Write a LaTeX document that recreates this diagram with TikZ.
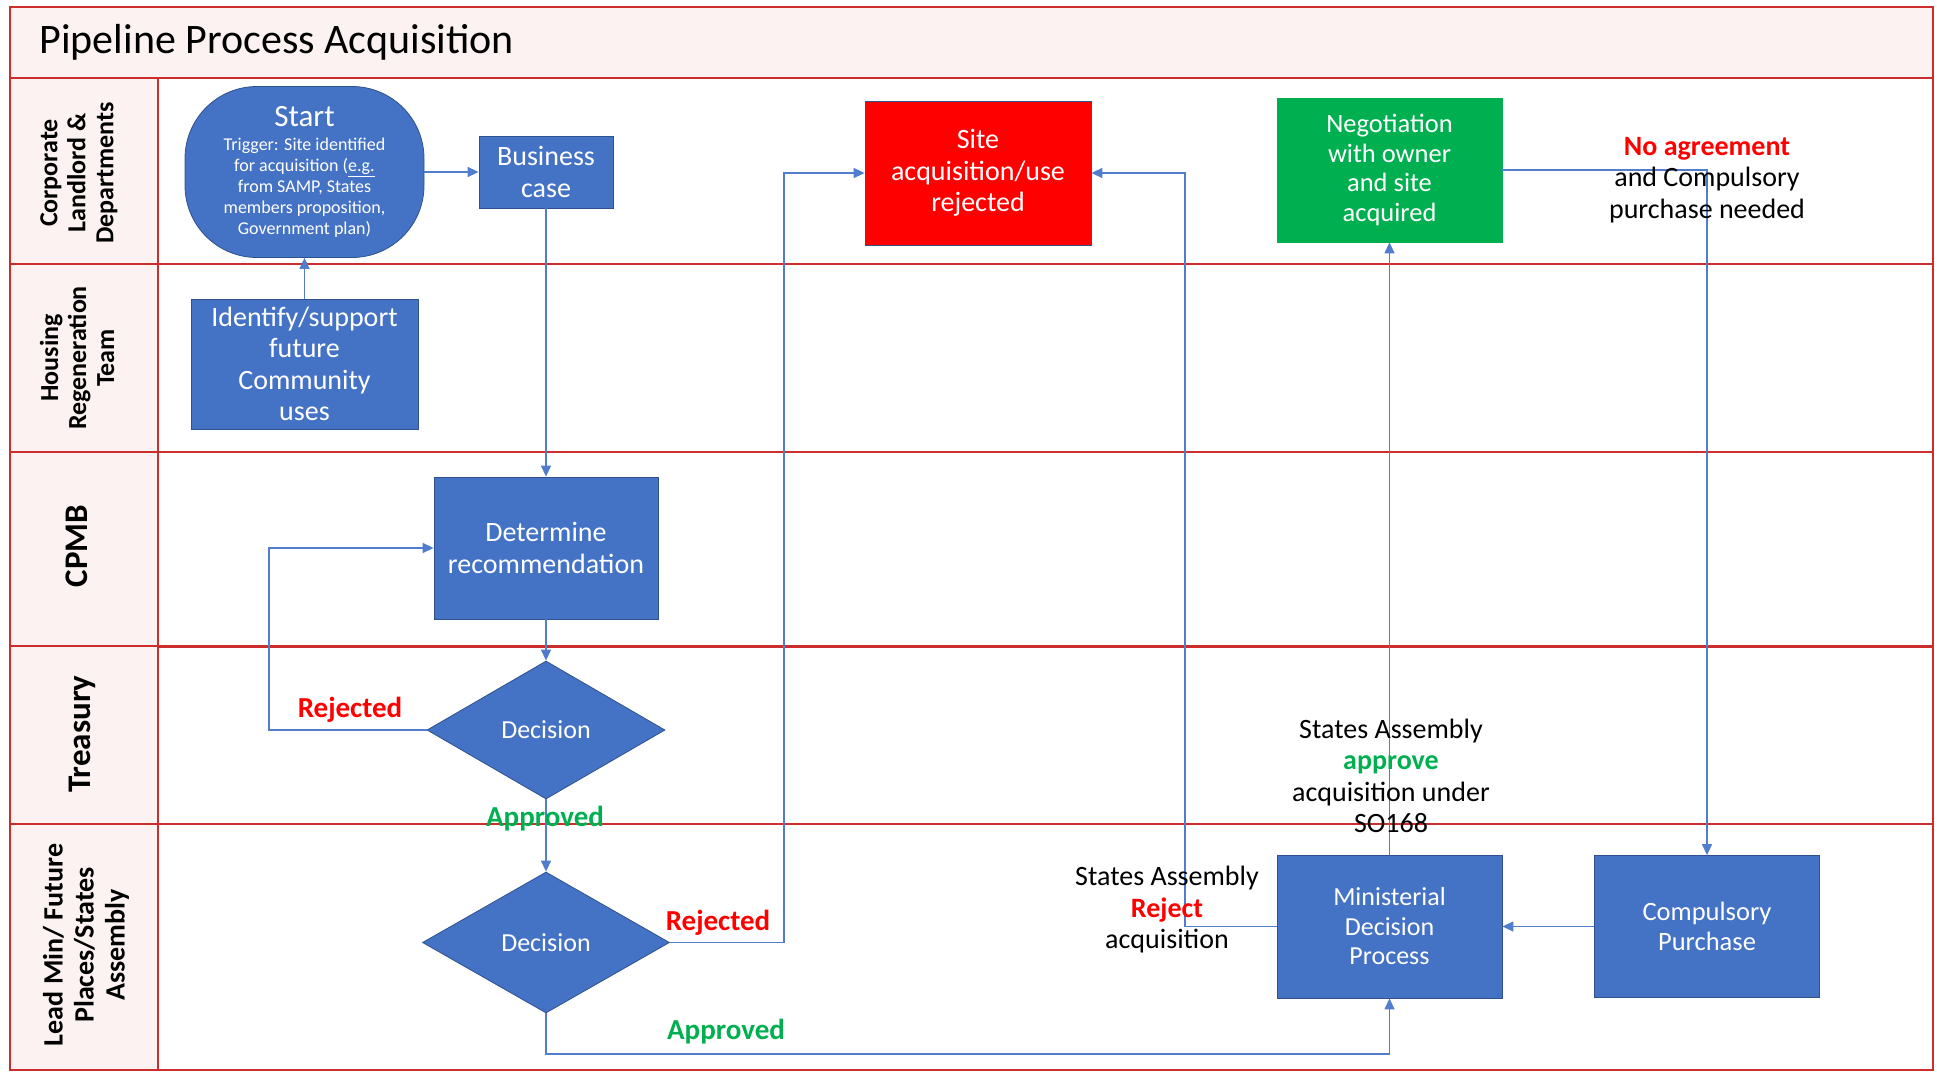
\documentclass[tikz,border=0pt]{standalone}
\usepackage{fontspec}
\setmainfont{Carlito}
\usetikzlibrary{arrows.meta,shapes.geometric}

\begin{document}
\begin{tikzpicture}[x=1pt,y=-1pt,
    lane/.style={draw=laneline,line width=1.6pt},
    lanehead/.style={lane,fill=lanefill},
    lanelabel/.style={rotate=90,align=center,font=\bfseries\fontsize{26}{28}\selectfont},
    box/.style={draw=boxedge,line width=0.8pt,fill=boxblue,text=white,align=center,inner sep=2pt,font=\fontsize{28}{31.5}\selectfont},
    decision/.style={box,diamond,aspect=1.72,inner sep=0pt,font=\fontsize{26}{30}\selectfont},
    flow/.style={draw=flowblue,line width=1.4pt,-{Triangle[length=11pt,width=10pt]}},
    note/.style={align=center,font=\fontsize{28}{31.5}\selectfont},
    rejtext/.style={text=rejred,font=\bfseries\fontsize{29}{32}\selectfont},
    apptext/.style={text=appgreen,font=\bfseries\fontsize{29}{32}\selectfont}]

  % Define colors
  \definecolor{laneline}{RGB}{204,45,45}
  \definecolor{lanefill}{RGB}{253,242,242}
  \definecolor{boxblue}{RGB}{68,114,196}
  \definecolor{boxedge}{RGB}{47,82,143}
  \definecolor{flowblue}{RGB}{80,125,205}
  \definecolor{rejred}{RGB}{255,0,0}
  \definecolor{appgreen}{RGB}{0,176,80}

  \useasboundingbox (0,0) rectangle (1937,1073);

  % Draw the title band
  \draw[lanehead] (10,7) rectangle (1933,78);
  \node[anchor=west,font=\fontsize{42}{48}\selectfont] (title) at (36,42) {Pipeline Process Acquisition};

  % Draw the lanes
  \draw[lane] (158,78) rectangle (1933,264);
  \draw[lanehead] (10,78) rectangle (158,264);
  \draw[lane] (158,264) rectangle (1933,452);
  \draw[lanehead] (10,264) rectangle (158,452);
  \draw[lane] (158,452) rectangle (1933,646);
  \draw[lanehead] (10,452) rectangle (158,646);
  \draw[lane] (158,646) rectangle (1933,824);
  \draw[lanehead] (10,646) rectangle (158,824);
  \draw[lane] (158,824) rectangle (1933,1070);
  \draw[lanehead] (10,824) rectangle (158,1070);
  \draw[lane,line width=3pt] (158,646) -- (1933,646);

  % Lane names
  \node[lanelabel] (corporate) at (79,173) {Corporate\\Landlord \&\\Departments};
  \node[lanelabel] (housing) at (77,358) {Housing\\Regeneration\\Team};
  \node[lanelabel,font=\bfseries\fontsize{33}{36}\selectfont] (cpmb) at (77,546) {CPMB};
  \node[lanelabel,font=\bfseries\fontsize{33}{36}\selectfont] (treasury) at (82,734) {Treasury};
  \node[lanelabel,font=\bfseries\fontsize{28}{31}\selectfont] (leadmin) at (86,945) {Lead Min/ Future\\Places/States\\Assembly};

  % Draw the process steps
  \node[box,rounded corners=72pt,minimum width=239,minimum height=171,font=\fontsize{18}{21}\selectfont] (start) at (304.5,172) {{\fontsize{31}{34}\selectfont Start}\\[3pt]Trigger: Site identified\\for acquisition (\underline{e.g.}\\from SAMP, States\\members proposition,\\Government plan)};
  \node[box,minimum width=134,minimum height=72] (bcase) at (546,172) {Business\\case};
  \node[box,minimum width=227,minimum height=130] (identify) at (304.5,364) {Identify/support\\future\\Community\\uses};
  \node[box,minimum width=224,minimum height=142] (determine) at (546,548) {Determine\\recommendation};
  \node[decision,minimum width=238,minimum height=138] (treasdec) at (546,730) {Decision};
  \node[decision,minimum width=247,minimum height=141] (mindec) at (546,942.5) {Decision};
  \node[box,fill=rejred,minimum width=226,minimum height=144] (siterej) at (978,173) {Site\\acquisition/use\\rejected};
  \node[box,fill=appgreen,draw=appgreen,font=\fontsize{26.5}{29.5}\selectfont,minimum width=225,minimum height=144] (negotiate) at (1389.5,170) {Negotiation\\with owner\\and site\\acquired};
  \node[box,font=\fontsize{26}{29.5}\selectfont,minimum width=225,minimum height=143] (ministerial) at (1389.5,926.5) {Ministerial\\Decision\\Process};
  \node[box,font=\fontsize{26.5}{29.5}\selectfont,minimum width=225,minimum height=142] (compulsory) at (1707,926.5) {Compulsory\\Purchase};

  % Draw the connectors
  \coordinate (loopleft) at (269,640);
  \coordinate (rejright) at (784,500);
  \coordinate (appbottom) at (900,1054);
  \coordinate (rejback) at (1185,500);
  \draw[flow] (identify.north) -- (start.south);
  \draw[flow] (start.east) -- (bcase.west);
  \draw[flow] (bcase.south) -- (determine.north);
  \draw[flow] (determine.south) -- (treasdec.north);
  \draw[flow] (treasdec.west) -| (loopleft) |- (determine.west);
  \draw[flow] (treasdec.south) -- (mindec.north);
  \draw[flow] (mindec.east) -| (rejright) |- (siterej.west);
  \draw[flow] (mindec.south) |- (appbottom) -| (ministerial.south);
  \draw[flow] (ministerial.west) -| (rejback) |- (siterej.east);
  \draw[flow] (ministerial.north) -- (negotiate.south);
  \draw[flow] (negotiate.east) -| (compulsory.north);
  \draw[flow] (compulsory.west) -- (ministerial.east);

  % Draw the decision labels
  \node[rejtext] (rejtreasury) at (350,710) {Rejected};
  \node[apptext] (apptreasury) at (545,819) {Approved};
  \node[rejtext] (rejminister) at (718,923) {Rejected};
  \node[apptext] (appminister) at (726,1032) {Approved};
  \node[note] (assemblyrej) at (1167,910) {States Assembly\\{\color{rejred}\bfseries Reject}\\acquisition};
  \node[note] (assemblyapp) at (1391,776) {States Assembly\\{\color{appgreen}\bfseries approve}\\acquisition under\\SO168};
  \node[note] (noagree) at (1707,180) {{\color{rejred}\bfseries No agreement}\\and Compulsory\\purchase needed};
\end{tikzpicture}
\end{document}
